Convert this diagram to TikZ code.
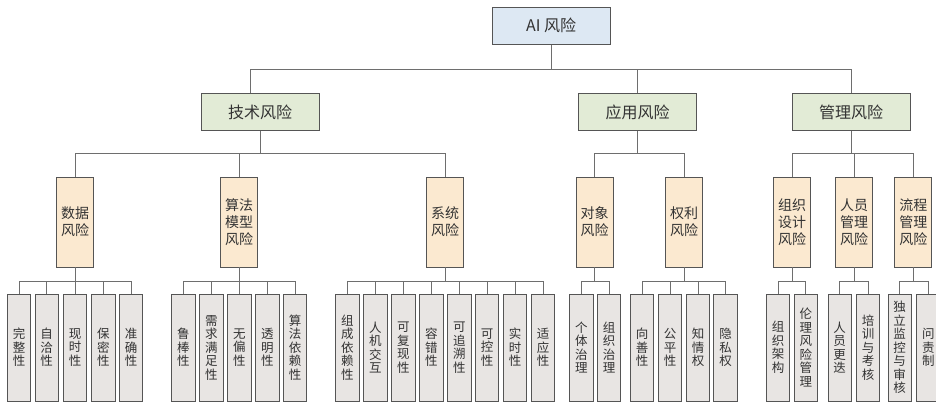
\documentclass[tikz,border=0pt]{standalone}
\usepackage{fontspec}
\setmainfont{Noto Sans CJK SC}
\definecolor{topfill}{HTML}{DDE8F3}
\definecolor{ltwofill}{HTML}{E2EBD6}
\definecolor{lthreefill}{HTML}{FBE9D0}
\definecolor{leaffill}{HTML}{E8E5E3}
\definecolor{edgecol}{HTML}{555555}
\definecolor{wirecol}{HTML}{6E6E6E}
\definecolor{txtcol}{HTML}{333333}
\tikzset{
  basebox/.style={draw=edgecol, line width=0.9pt, inner sep=0pt, text=txtcol},
  topbox/.style={basebox, fill=topfill, minimum width=117.5pt, minimum height=37pt, font=\fontsize{16}{18}\selectfont},
  ltwobox/.style={basebox, fill=ltwofill, minimum width=118pt, minimum height=37.5pt, font=\fontsize{16}{18}\selectfont},
  lthreebox/.style={basebox, fill=lthreefill, minimum width=37pt, minimum height=90pt, align=center, font=\fontsize{14}{17}\selectfont},
  leafbox/.style={basebox, fill=leaffill, minimum width=23.3pt, minimum height=107pt, align=center, font=\fontsize{12.5}{13.5}\selectfont},
  wire/.style={draw=wirecol, line width=0.9pt}
}
\begin{document}
\begin{tikzpicture}[x=1pt, y=-1pt]
\fill[white] (0,0) rectangle (936,403);
\useasboundingbox (0,0) rectangle (936,403);
\clip (0,0) rectangle (936,403);

% bus coordinates
\coordinate (busA) at (0,69);
\coordinate (busB) at (0,153);
\coordinate (busC) at (0,281);

% level 1 and 2
\node[topbox] (ai) at (551.2,25.8) {AI 风险};
\node[ltwobox] (tech) at (260,112) {技术风险};
\node[ltwobox] (app) at (637.5,112) {应用风险};
\node[ltwobox] (mgmt) at (851,112) {管理风险};

% level 3
\node[lthreebox] (data) at (75,222) {数据\\风险};
\node[lthreebox] (algo) at (239,222) {算法\\模型\\风险};
\node[lthreebox] (sys) at (445,222) {系统\\风险};
\node[lthreebox] (obj) at (594.5,222) {对象\\风险};
\node[lthreebox] (right) at (684,222) {权利\\风险};
\node[lthreebox] (org) at (792,222) {组织\\设计\\风险};
\node[lthreebox] (staff) at (854,222) {人员\\管理\\风险};
\node[lthreebox] (proc) at (913.3,222) {流程\\管理\\风险};

% leaves
\foreach \n/\x/\t in {
  d1/19/完\\整\\性, d2/46.7/自\\洽\\性, d3/75/现\\时\\性, d4/103.3/保\\密\\性, d5/131/准\\确\\性,
  a1/183.3/鲁\\棒\\性, a2/211.3/需\\求\\满\\足\\性, a3/239.3/无\\偏\\性, a4/267.3/透\\明\\性, a5/295.2/算\\法\\依\\赖\\性,
  s1/347.3/组\\成\\依\\赖\\性, s2/375.3/人\\机\\交\\互, s3/403.3/可\\复\\现\\性, s4/431.3/容\\错\\性,
  s5/459.3/可\\追\\溯\\性, s6/487/可\\控\\性, s7/515/实\\时\\性, s8/543/适\\应\\性,
  o1/581.3/个\\体\\治\\理, o2/609.2/组\\织\\治\\理,
  r1/642/向\\善\\性, r2/670/公\\平\\性, r3/698/知\\情\\权, r4/725.5/隐\\私\\权,
  g1/778/组\\织\\架\\构, g2/805.8/伦\\理\\风\\险\\管\\理,
  p1/839.7/人\\员\\更\\迭, p2/868/培\\训\\与\\考\\核,
  f1/899.7/独\\立\\监\\控\\与\\审\\核, f2/928.3/问\\责\\制}
  {\node[leafbox] (\n) at (\x,347.5) {\t};}

% level 1 -> 2
\draw[wire] (ai.south) -- (ai.south |- busA);
\draw[wire] ([xshift=-10pt]tech.north) |- (mgmt.north |- busA) -- (mgmt.north);
\draw[wire] (app.north) -- (app.north |- busA);

% level 2 -> 3
\draw[wire] (tech.south) -- (tech.south |- busB);
\draw[wire] (data.north) |- (sys.north |- busB) -- (sys.north);
\draw[wire] (algo.north) -- (algo.north |- busB);

\draw[wire] (app.south) -- (app.south |- busB);
\draw[wire] (obj.north) |- (right.north |- busB) -- (right.north);

\draw[wire] (mgmt.south) -- (mgmt.south |- busB);
\draw[wire] (org.north) |- (proc.north |- busB) -- (proc.north);
\draw[wire] (staff.north) -- (staff.north |- busB);

% level 3 -> leaves
\draw[wire] (data.south) -- (data.south |- busC);
\draw[wire] (d1.north) |- (d5.north |- busC) -- (d5.north);
\foreach \c in {d2,d3,d4} \draw[wire] (\c.north) -- (\c.north |- busC);

\draw[wire] (algo.south) -- (algo.south |- busC);
\draw[wire] (a1.north) |- (a5.north |- busC) -- (a5.north);
\foreach \c in {a2,a3,a4} \draw[wire] (\c.north) -- (\c.north |- busC);

\draw[wire] (sys.south) -- (sys.south |- busC);
\draw[wire] (s1.north) |- (s8.north |- busC) -- (s8.north);
\foreach \c in {s2,s3,s4,s5,s6,s7} \draw[wire] (\c.north) -- (\c.north |- busC);

\draw[wire] (obj.south) -- (obj.south |- busC);
\draw[wire] (o1.north) |- (o2.north |- busC) -- (o2.north);

\draw[wire] (right.south) -- (right.south |- busC);
\draw[wire] (r1.north) |- (r4.north |- busC) -- (r4.north);
\foreach \c in {r2,r3} \draw[wire] (\c.north) -- (\c.north |- busC);

\draw[wire] (org.south) -- (org.south |- busC);
\draw[wire] (g1.north) |- (g2.north |- busC) -- (g2.north);

\draw[wire] (staff.south) -- (staff.south |- busC);
\draw[wire] (p1.north) |- (p2.north |- busC) -- (p2.north);

\draw[wire] (proc.south) -- (proc.south |- busC);
\draw[wire] (f1.north) |- (f2.north |- busC) -- (f2.north);
\end{tikzpicture}
\end{document}
